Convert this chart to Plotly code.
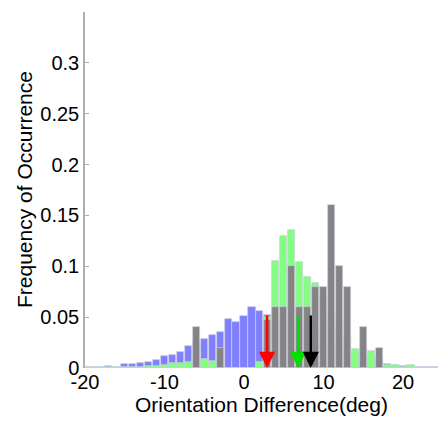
import plotly.graph_objects as go

# bin centres (deg)
bins = list(range(-20, 25))

# blue series (full population)
blue = [0.001, 0.001, 0.001, 0.002, 0.001, 0.0036, 0.0036, 0.0046, 0.0062, 0.0075,
        0.012, 0.0127, 0.016, 0.0216, 0.025, 0.0288, 0.0327, 0.0353, 0.0477, 0.0454,
        0.051, 0.0595, 0.0562, 0.052, 0.054, 0.047, 0.045, 0.040, 0.036, 0.035,
        0.030, 0.025, 0.020, 0.016, 0.016, 0.014, 0.012, 0.008, 0.004, 0.003,
        0.002, 0.002, 0.0013, 0.0007, 0.001]

# green series
green = [0.0, 0.0005, 0.0005, 0.0007, 0.0007, 0.001, 0.0013, 0.0013, 0.0016, 0.002,
         0.0026, 0.0045, 0.005, 0.006, 0.007, 0.0088, 0.0069, 0.005, 0.0, 0.0,
         0.0, 0.0, 0.006, 0.05, 0.105, 0.1297, 0.1353, 0.1046, 0.0895, 0.084,
         0.07, 0.05, 0.04, 0.03, 0.0186, 0.02, 0.0167, 0.01, 0.0033, 0.0026,
         0.001, 0.0033, 0.001, 0.0, 0.0]

# gray series
gray = [0, 0, 0, 0, 0, 0, 0, 0, 0, 0,
        0, 0, 0, 0, 0.04, 0, 0, 0.02, 0, 0,
        0, 0, 0, 0.047, 0.06, 0.06, 0.10, 0.06, 0.06, 0.08,
        0.08, 0.16, 0.10, 0.08, 0, 0.04, 0, 0.02, 0, 0,
        0, 0, 0, 0, 0]

# mean markers (arrows)
arrow_x = [2.9, 6.8, 8.4]
arrow_top = [0.053, 0.053, 0.053]
arrow_colors = ["#ff0000", "#00e000", "#000000"]

y_ticks = [0, 0.05, 0.1, 0.15, 0.2, 0.25, 0.3]
y_ticktext = ["0", "0.05", "0.1", "0.15", "0.2", "0.25", "0.3"]
x_ticks = [-20, -10, 0, 10, 20]
x_ticktext = ["-20", "-10", "0", "10", "20"]

FONT = "Arial, Liberation Sans, sans-serif"
edge = "rgb(205,205,225)"

fig = go.Figure()
for vals, col in [(blue, "rgb(128,128,255)"), (green, "rgb(128,255,128)"), (gray, "rgb(132,132,132)")]:
    fig.add_trace(go.Bar(x=bins, y=vals, width=0.9, marker=dict(color=col, line=dict(color=edge, width=0.7)),
                         showlegend=False))

for xv, yt, c in zip(arrow_x, arrow_top, arrow_colors):
    fig.add_annotation(x=xv, y=0, ax=xv, ay=yt, xref="x", yref="y", axref="x", ayref="y",
                       showarrow=True, arrowhead=2, arrowsize=1.3, arrowwidth=2.5, arrowcolor=c, text="")

# axis titles
fig.add_annotation(text="Orientation Difference(deg)", xref="paper", yref="paper",
                   x=0.5, y=-36 / 356, xanchor="center", yanchor="middle", showarrow=False,
                   font=dict(size=21))
fig.add_annotation(text="Frequency of Occurrence", xref="paper", yref="paper",
                   x=-61 / 353, y=0.5, xanchor="center", yanchor="middle", showarrow=False,
                   textangle=-90, font=dict(size=21))

fig.update_layout(
    width=438, height=421,
    margin=dict(l=85, r=0, t=12, b=53),
    barmode="overlay", bargap=0,
    plot_bgcolor="white", paper_bgcolor="white",
    font=dict(family=FONT, size=20, color="black"),
)
fig.update_xaxes(range=[-20, 24.4], tickvals=x_ticks, ticktext=x_ticktext, ticks="", showline=False,
                 showgrid=False, zeroline=False, automargin=False)
fig.update_yaxes(range=[0, 0.35], tickvals=y_ticks, ticktext=y_ticktext, ticks="inside", ticklen=4,
                 tickcolor="rgb(175,175,175)", showline=True, linecolor="rgb(175,175,175)", linewidth=1.5,
                 showgrid=False, zeroline=False, automargin=False)

fig.write_html("out.html")
